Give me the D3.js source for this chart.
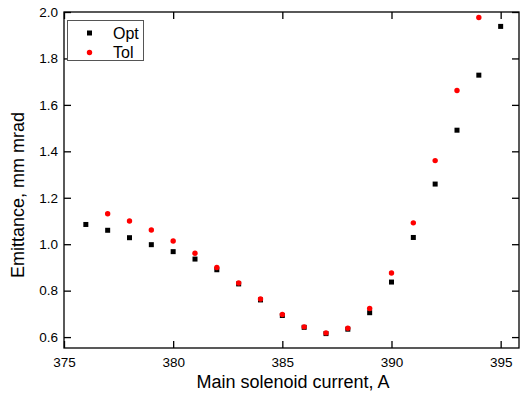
<!DOCTYPE html>
<html>
<head>
<meta charset="utf-8">
<script src="https://cdn.jsdelivr.net/npm/d3@7"></script>
<style>
  body { margin: 0; background: #fff; }
  text { font-family: "Liberation Sans", Arial, sans-serif; }
</style>
</head>
<body>
<div id="chart"></div>
<script>
const optCurrent = [376, 377, 378, 379, 380, 381, 382, 383, 384, 385, 386, 387, 388, 389, 390, 391, 392, 393, 394, 395];
const optEmit = [1.085, 1.060, 1.028, 0.998, 0.968, 0.936, 0.890, 0.829, 0.760, 0.693, 0.642, 0.615, 0.634, 0.705, 0.837, 1.029, 1.259, 1.491, 1.728, 1.938];
const tolCurrent = [377, 378, 379, 380, 381, 382, 383, 384, 385, 386, 387, 388, 389, 390, 391, 392, 393, 394];
const tolEmit = [1.131, 1.100, 1.061, 1.014, 0.961, 0.900, 0.833, 0.764, 0.697, 0.644, 0.618, 0.638, 0.723, 0.876, 1.092, 1.360, 1.662, 1.976];
const xTicks = [375, 380, 385, 390, 395];
const yTicks = [0.6, 0.8, 1.0, 1.2, 1.4, 1.6, 1.8, 2.0];

const width = 520, height = 404;
const margin = { top: 12, right: 1, bottom: 56, left: 64 };

const svg = d3.select("#chart")
  .append("svg")
  .attr("width", width)
  .attr("height", height);

const x = d3.scaleLinear()
  .domain([375, 395.84])
  .range([margin.left, width - margin.right]);

const y = d3.scaleLinear()
  .domain([0.553, 2.0])
  .range([height - margin.bottom, margin.top]);

const x0 = margin.left, x1 = width - margin.right;
const y0 = height - margin.bottom, y1 = margin.top;

// axes, ticks pointing inward
const styleAxis = g => {
  g.select(".domain").remove();
  g.selectAll("line").attr("stroke", "#000").attr("stroke-width", 1.3);
  g.selectAll("text").attr("font-size", "13.5px").attr("fill", "#000");
};

svg.append("g")
  .attr("transform", `translate(0,${y0})`)
  .call(d3.axisBottom(x).tickValues(xTicks).tickSizeInner(-7).tickSizeOuter(0).tickPadding(9).tickFormat(d3.format("d")))
  .call(styleAxis);

svg.append("g")
  .attr("transform", `translate(0,${y1})`)
  .call(d3.axisTop(x).tickValues(xTicks).tickSizeInner(-7).tickSizeOuter(0).tickFormat(""))
  .call(styleAxis);

svg.append("g")
  .attr("transform", `translate(${x0},0)`)
  .call(d3.axisLeft(y).tickValues(yTicks).tickSizeInner(-7).tickSizeOuter(0).tickPadding(6).tickFormat(d3.format(".1f")))
  .call(styleAxis);

svg.append("g")
  .attr("transform", `translate(${x1},0)`)
  .call(d3.axisRight(y).tickValues(yTicks).tickSizeInner(-7).tickSizeOuter(0).tickFormat(""))
  .call(styleAxis);

svg.append("rect")
  .attr("x", x0)
  .attr("y", y1)
  .attr("width", x1 - x0)
  .attr("height", y0 - y1)
  .attr("fill", "none")
  .attr("stroke", "#000")
  .attr("stroke-width", 1.3);

// data
svg.append("g")
  .selectAll("rect")
  .data(optCurrent)
  .enter()
  .append("rect")
  .attr("x", (d, i) => x(d) - 2.5)
  .attr("y", (d, i) => y(optEmit[i]) - 2.5)
  .attr("width", 5)
  .attr("height", 5)
  .attr("fill", "#000");

svg.append("g")
  .selectAll("circle")
  .data(tolCurrent)
  .enter()
  .append("circle")
  .attr("cx", (d, i) => x(d))
  .attr("cy", (d, i) => y(tolEmit[i]))
  .attr("r", 2.7)
  .attr("fill", "#ff0000");

// axis titles
svg.append("text")
  .attr("x", 293)
  .attr("y", 388)
  .attr("text-anchor", "middle")
  .attr("font-size", "18px")
  .text("Main solenoid current, A");

svg.append("text")
  .attr("transform", "translate(24,195) rotate(-90)")
  .attr("text-anchor", "middle")
  .attr("font-size", "18px")
  .text("Emittance, mm mrad");

// legend
const legend = svg.append("g");
legend.append("rect")
  .attr("x", 67.5)
  .attr("y", 20.5)
  .attr("width", 76)
  .attr("height", 40)
  .attr("fill", "#fff")
  .attr("stroke", "#555")
  .attr("stroke-width", 1);
legend.append("rect")
  .attr("x", 87)
  .attr("y", 30.5)
  .attr("width", 5)
  .attr("height", 5)
  .attr("fill", "#000");
legend.append("circle")
  .attr("cx", 89.5)
  .attr("cy", 52.5)
  .attr("r", 2.7)
  .attr("fill", "#ff0000");
legend.append("text")
  .attr("x", 113)
  .attr("y", 38.5)
  .attr("font-size", "16px")
  .text("Opt");
legend.append("text")
  .attr("x", 113)
  .attr("y", 58)
  .attr("font-size", "16px")
  .text("Tol");
</script>
</body>
</html>
